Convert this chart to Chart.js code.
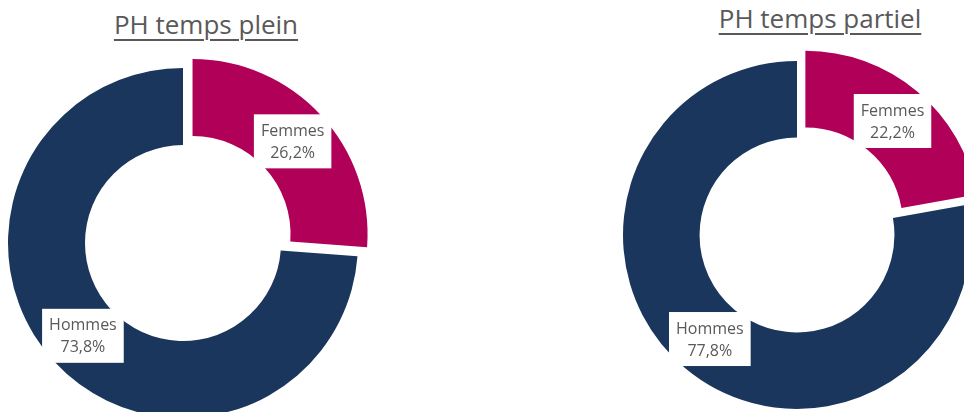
<!DOCTYPE html>
<html>
<head>
<meta charset="utf-8">
<script src="https://cdn.jsdelivr.net/npm/chart.js@4/dist/chart.umd.min.js"></script>
<style>
    html, body { margin: 0; padding: 0; background: #fff; }
    #wrap { position: relative; width: 964px; height: 412px; overflow: hidden; }
    canvas { position: absolute; }
    .title {
        position: absolute;
        width: 300px;
        text-align: center;
        font: 26px/30px "Open Sans", sans-serif;
        color: #595959;
        text-decoration: underline;
        text-decoration-thickness: 2px;
        text-underline-offset: 5px;
    }
</style>
</head>
<body>
<div id="wrap">
    <div class="title" id="title1" style="left: 56px; top: 9px;"></div>
    <div class="title" id="title2" style="left: 670px; top: 3px;"></div>
    <canvas id="chart1" width="380" height="486" style="left: -7px; top: 0;"></canvas>
    <canvas id="chart2" width="400" height="470" style="left: 597px; top: 0;"></canvas>
</div>
<script>
    const categories = ['Femmes', 'Hommes'];
    const titles = ['PH temps plein', 'PH temps partiel'];
    const pleinValues = [26.2, 73.8];
    const partielValues = [22.2, 77.8];

    const colors = ['#b00058', '#1a365d'];
    const explode = [52, 0];

    document.getElementById('title1').textContent = titles[0];
    document.getElementById('title2').textContent = titles[1];

    const labelPlugin = {
        id: 'sliceLabels',
        afterDatasetsDraw(chart) {
            const ctx = chart.ctx;
            const meta = chart.getDatasetMeta(0);
            const values = chart.data.datasets[0].data;
            ctx.save();
            ctx.font = '16px "Open Sans", sans-serif';
            ctx.textAlign = 'center';
            ctx.textBaseline = 'middle';
            meta.data.forEach((arc, i) => {
                const angle = (arc.startAngle + arc.endAngle) / 2;
                const r = (arc.innerRadius + arc.outerRadius) / 2 + (arc.options.offset || 0) / 4;
                const x = arc.x + Math.cos(angle) * r;
                const y = arc.y + Math.sin(angle) * r;
                const line1 = chart.data.labels[i];
                const line2 = values[i].toFixed(1).replace('.', ',') + '%';
                const w = Math.max(ctx.measureText(line1).width, ctx.measureText(line2).width) + 14;
                const h = 54;
                ctx.fillStyle = '#ffffff';
                ctx.fillRect(x - w / 2, y - h / 2, w, h);
                ctx.fillStyle = '#595959';
                ctx.fillText(line1, x, y - 10);
                ctx.fillText(line2, x, y + 12);
            });
            ctx.restore();
        }
    };

    function renderChart(element, values, radius) {
        return new Chart(element, {
            type: 'doughnut',
            data: {
                labels: categories,
                datasets: [{
                    data: values,
                    backgroundColor: colors,
                    borderWidth: 0,
                    offset: explode,
                    radius: radius,
                }]
            },
            options: {
                responsive: false,
                animation: false,
                cutout: '56%',
                events: [],
                plugins: {
                    legend: {display: false},
                    tooltip: {enabled: false},
                }
            },
            plugins: [labelPlugin]
        });
    }

    renderChart(document.getElementById('chart1'), pleinValues, 175);
    renderChart(document.getElementById('chart2'), partielValues, 174);
</script>
</body>
</html>
